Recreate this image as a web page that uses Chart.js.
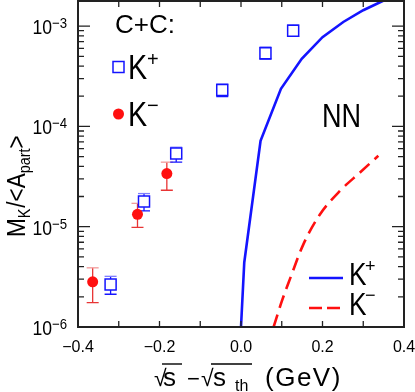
<!DOCTYPE html>
<html>
<head>
<meta charset="utf-8">
<script src="https://cdn.jsdelivr.net/npm/chart.js@4/dist/chart.umd.min.js"></script>
<style>
    body { margin: 0; background: #fff; }
    #wrap { width: 415px; height: 392px; }
</style>
</head>
<body>
<div id="wrap"><canvas id="chart" width="415" height="392"></canvas></div>
<script>
// C+C data points (x = sqrt(s) - sqrt(s_th) in GeV)
var kPlusX = [-0.320, -0.238, -0.159, -0.046, 0.060, 0.128];
var kPlusY = [2.65e-6, 1.78e-5, 5.37e-5, 2.31e-4, 5.37e-4, 9.0e-4];
var kPlusLo = [2.12e-6, 1.44e-5, 4.4e-5, 1.98e-4, 4.7e-4, 7.9e-4];
var kPlusHi = [3.2e-6, 2.14e-5, 6.2e-5, 2.65e-4, 6.2e-4, 1.03e-3];

var kMinusX = [-0.364, -0.254, -0.182];
var kMinusY = [2.82e-6, 1.33e-5, 3.39e-5];
var kMinusLo = [1.75e-6, 9.86e-6, 2.31e-5];
var kMinusHi = [3.89e-6, 1.71e-5, 4.4e-5];

// NN curves
var nnPlusX = [0.0, 0.008, 0.048, 0.098, 0.149, 0.2, 0.251, 0.3, 0.35, 0.37];
var nnPlusY = [1e-6, 4.4e-6, 7.2e-5, 2.37e-4, 4.72e-4, 7.76e-4, 1.1e-3, 1.44e-3, 1.8e-3, 2.0e-3];
var nnMinusX = [0.080, 0.100, 0.120, 0.153, 0.194, 0.243, 0.292, 0.337];
var nnMinusY = [1e-6, 1.8e-6, 3.0e-6, 6.67e-6, 1.33e-5, 2.28e-5, 3.47e-5, 5.1e-5];

var xTickValues = [-0.4, -0.2, 0.0, 0.2, 0.4];
var yTickValues = [1e-6, 1e-5, 1e-4, 1e-3];
var yTickExps = ["\u22126", "\u22125", "\u22124", "\u22123"];

var BLUE = "#1414ff";
var RED = "#ff1010";
var FONT = '"Liberation Sans", Arial, sans-serif';

function pts(xs, ys) {
    return xs.map(function(x, i) { return {x: x, y: ys[i]}; });
}

function txt(ctx, s, x, y, size, sx, align) {
    ctx.save();
    ctx.translate(x, y);
    ctx.scale(sx || 1, 1);
    ctx.font = size + "px " + FONT;
    ctx.textAlign = align || "left";
    ctx.textBaseline = "alphabetic";
    ctx.fillText(s, 0, 0);
    var w = ctx.measureText(s).width * (sx || 1);
    ctx.restore();
    return w;
}

function noPad(s) {
    s.paddingTop = 0; s.paddingBottom = 0; s.paddingLeft = 0; s.paddingRight = 0;
}

// error bars, drawn under the markers
var errorBars = {
    id: "errorBars",
    beforeDatasetsDraw: function(chart) {
        var ctx = chart.ctx, xs = chart.scales.x, ys = chart.scales.y;
        function bars(xv, lo, hi, col, capCol) {
            ctx.lineWidth = 1.3;
            for (var i = 0; i < xv.length; i++) {
                var px = xs.getPixelForValue(xv[i]);
                var y1 = ys.getPixelForValue(lo[i]), y2 = ys.getPixelForValue(hi[i]);
                ctx.strokeStyle = col;
                ctx.beginPath();
                ctx.moveTo(px, y1); ctx.lineTo(px, y2);
                ctx.moveTo(px - 6, y1); ctx.lineTo(px + 6, y1);
                ctx.stroke();
                ctx.strokeStyle = capCol;
                ctx.beginPath();
                ctx.moveTo(px - 6, y2); ctx.lineTo(px + 6, y2);
                ctx.stroke();
            }
        }
        ctx.save();
        bars(kMinusX, kMinusLo, kMinusHi, "#e83434", "#f29a9a");
        bars(kPlusX, kPlusLo, kPlusHi, BLUE, "#7d7dff");
        ctx.restore();
    }
};

// frame, inward ticks, y labels, titles and legends
var decor = {
    id: "decor",
    afterDraw: function(chart) {
        var ctx = chart.ctx, a = chart.chartArea, xs = chart.scales.x, ys = chart.scales.y;
        ctx.save();
        ctx.strokeStyle = "#222";
        ctx.lineWidth = 2;
        ctx.strokeRect(a.left, a.top, a.right - a.left, a.bottom - a.top);

        ctx.lineWidth = 1.3;
        ctx.beginPath();
        for (var t = -3; t <= 3; t++) {
            var px = xs.getPixelForValue(t / 10);
            ctx.moveTo(px, a.bottom); ctx.lineTo(px, a.bottom - 6);
            ctx.moveTo(px, a.top); ctx.lineTo(px, a.top + 6);
        }
        for (var d = -6; d <= -3; d++) {
            for (var m = 1; m <= 9; m++) {
                var v = m * Math.pow(10, d);
                if (v > ys.max) break;
                var py = ys.getPixelForValue(v);
                var len = m === 1 ? 12 : 6;
                ctx.moveTo(a.left, py); ctx.lineTo(a.left + len, py);
                ctx.moveTo(a.right, py); ctx.lineTo(a.right - len, py);
            }
        }
        ctx.stroke();

        ctx.fillStyle = "#000";
        // y tick labels
        yTickValues.forEach(function(v, i) {
            var py = ys.getPixelForValue(v);
            txt(ctx, "10", 52, py + 8, 20, 0.88, "right");
            txt(ctx, yTickExps[i], 52, py + 2, 15, 0.88);
        });

        // x title: sqrt(s) - sqrt(s_th)  (GeV)
        ctx.lineWidth = 1.4;
        ctx.strokeStyle = "#000";
        txt(ctx, "\u221a", 154, 386, 23, 1);
        txt(ctx, "s", 163, 386, 26, 1);
        ctx.beginPath(); ctx.moveTo(162, 364); ctx.lineTo(182, 364); ctx.stroke();
        txt(ctx, "\u2212", 187, 386, 22, 1);
        txt(ctx, "\u221a", 201, 386, 23, 1);
        txt(ctx, "s", 213, 386, 26, 1);
        txt(ctx, "th", 235, 391, 16, 1);
        ctx.beginPath(); ctx.moveTo(211, 364); ctx.lineTo(252, 364); ctx.stroke();
        ctx.save();
        ctx.letterSpacing = "1.5px";
        txt(ctx, "(GeV)", 265, 386, 26, 1);
        ctx.restore();

        // y title: M_K/<A_part>, rotated
        ctx.save();
        ctx.translate(25, 237);
        ctx.rotate(-Math.PI / 2);
        var x = 0;
        x += txt(ctx, "M", x, 0, 25, 0.9);
        x += txt(ctx, "K", x, 5, 16, 0.9);
        x += txt(ctx, "/<A", x + 1, 0, 25, 0.9) + 1;
        x += txt(ctx, "part", x, 5, 16, 0.9);
        txt(ctx, ">", x, 0, 25, 0.9);
        ctx.restore();

        // C+C legend
        txt(ctx, "C+C:", 115, 33, 26, 1);
        ctx.strokeStyle = BLUE;
        ctx.lineWidth = 1.5;
        ctx.strokeRect(113, 61.5, 11, 11);
        txt(ctx, "K", 128, 79, 35, 0.82);
        txt(ctx, "+", 147, 66, 20, 1);
        ctx.fillStyle = RED;
        ctx.beginPath(); ctx.arc(118.5, 114, 5.5, 0, Math.PI * 2); ctx.fill();
        ctx.fillStyle = "#000";
        txt(ctx, "K", 128, 126, 35, 0.82);
        txt(ctx, "\u2212", 147, 112, 20, 1);

        // NN legend
        txt(ctx, "NN", 322, 127, 33, 0.82);
        ctx.lineWidth = 2.5;
        ctx.strokeStyle = BLUE;
        ctx.beginPath(); ctx.moveTo(309, 278); ctx.lineTo(343, 278); ctx.stroke();
        ctx.strokeStyle = RED;
        ctx.setLineDash([13, 5]);
        ctx.beginPath(); ctx.moveTo(309, 308); ctx.lineTo(343, 308); ctx.stroke();
        ctx.setLineDash([]);
        txt(ctx, "K", 349, 285, 32, 0.82);
        txt(ctx, "+", 365, 272, 18, 1);
        txt(ctx, "K", 349, 315, 32, 0.82);
        txt(ctx, "\u2212", 365, 301, 18, 1);
        ctx.restore();
    }
};

new Chart(document.getElementById("chart"), {
    type: "scatter",
    data: {
        datasets: [
            {
                data: pts(nnPlusX, nnPlusY), showLine: true, borderColor: BLUE,
                borderWidth: 2.6, pointRadius: 0, tension: 0
            },
            {
                data: pts(nnMinusX, nnMinusY), showLine: true, borderColor: RED,
                borderWidth: 2.6, borderDash: [13, 7], pointRadius: 0,
                cubicInterpolationMode: "monotone"
            },
            {
                data: pts(kMinusX, kMinusY), pointStyle: "circle", pointRadius: 5.5,
                backgroundColor: RED, borderColor: RED, borderWidth: 0
            },
            {
                data: pts(kPlusX, kPlusY), pointStyle: "rect", pointRadius: 7.8,
                backgroundColor: "#fff", borderColor: BLUE, borderWidth: 1.5
            }
        ]
    },
    options: {
        responsive: false,
        animation: false,
        devicePixelRatio: 1,
        layout: {autoPadding: false, padding: {top: 1, right: 11, left: 0, bottom: 0}},
        plugins: {legend: {display: false}, tooltip: {enabled: false}},
        scales: {
            x: {
                type: "linear", min: -0.4, max: 0.4,
                grid: {display: false}, border: {display: false},
                afterBuildTicks: function(s) {
                    s.ticks = xTickValues.map(function(v) { return {value: v}; });
                },
                ticks: {
                    color: "#000", padding: 3, maxRotation: 0, autoSkip: false,
                    font: {family: FONT, size: 16},
                    callback: function(v) { return v < 0 ? "\u2212" + Math.abs(v).toFixed(1) : v.toFixed(1); }
                },
                afterFit: function(s) { s.height = 65; noPad(s); }
            },
            y: {
                type: "logarithmic", min: 1e-6, max: 1.78e-3,
                grid: {display: false}, border: {display: false},
                ticks: {display: false},
                afterFit: function(s) { s.width = 78; noPad(s); }
            }
        }
    },
    plugins: [errorBars, decor]
});
</script>
</body>
</html>
